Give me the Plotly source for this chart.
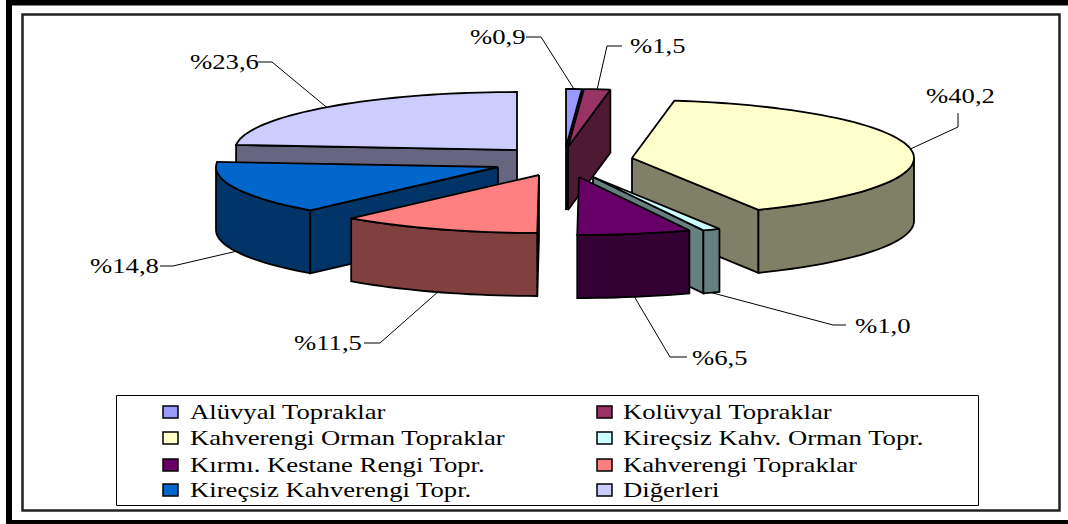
import math
import plotly.graph_objects as go

# ---- data ----
categories = ["Alüvyal Topraklar", "Kolüvyal Topraklar", "Kahverengi Orman Topraklar",
              "Kireçsiz Kahv. Orman Topr.", "Kırmı. Kestane Rengi Topr.", "Kahverengi Topraklar",
              "Kireçsiz Kahverengi Topr.", "Diğerleri"]
values = [0.9, 1.5, 40.2, 1.0, 6.5, 11.5, 14.8, 23.6]

# ---- style ----
top_colors = ["#9999FF", "#993366", "#FFFFCC", "#CCFFFF", "#660066", "#FF8080", "#0066CC", "#CCCCFF"]
side_colors = ["#4C4C80", "#4D1933", "#808066", "#668080", "#330033", "#804040", "#003366", "#666680"]

# pie projection in page pixels
RX, RY, DEPTH = 282.0, 58.0, 63.0
CENTER = (560.0, 160.0)
# explosion of each slice, as an offset from the pie's centre
explode = [(6, -13), (8, -13), (72, -2), (33, 17), (19, 17), (-21, 15), (-62, 7), (-43, -10)]
# paint order, back to front
paint_order = [7, 0, 1, 6, 5, 2, 3, 4]
# leader elbows and label anchors: (elbow, line end, label left, label centre y)
leaders = [
    ((541, 37), (526, 37), 469, 37),
    ((607, 46), (622, 46), 629, 46),
    ((958, 127), (958, 113), 925, 96),
    ((833, 325), (846, 325), 854, 326),
    ((670, 357), (687, 357), 691, 358),
    ((380, 343), (364, 343), 293, 343),
    ((173, 266), (160, 266), 89, 266),
    ((272, 62), (258, 62), 189, 62),
]
LEGEND_ROWS = [412, 438, 465, 490]
LEGEND_SWATCH_X = [163, 597]
LEGEND_TEXT_X = [189, 622]
SERIF = "Liberation Serif"
FONT_SIZE = 21
TEXT_STRETCH = 1.27
OUTLINE = 1.8


def point(apex, deg, drop=0.0):
    t = math.radians(deg)
    return (apex[0] + RX * math.sin(t), apex[1] - RY * math.cos(t) + drop)


def arc(apex, a, b, drop=0.0):
    n = max(2, int(abs(b - a) / 2) + 2)
    return [point(apex, a + (b - a) * i / (n - 1), drop) for i in range(n)]


fig = go.Figure()


def poly(pts, fill):
    xs = [p[0] for p in pts] + [pts[0][0]]
    ys = [p[1] for p in pts] + [pts[0][1]]
    fig.add_trace(go.Scatter(x=xs, y=ys, mode="lines", fill="toself", fillcolor=fill,
                             line=dict(color="black", width=OUTLINE, simplify=False),
                             hoverinfo="skip", showlegend=False))


# angles
total = sum(values)
starts, ends = [], []
acc = 0.0
for v in values:
    starts.append(acc / total * 360)
    acc += v
    ends.append(acc / total * 360)
apexes = [(CENTER[0] + dx, CENTER[1] + dy) for dx, dy in explode]

# slices
for i in paint_order:
    a, b, apex = starts[i], ends[i], apexes[i]
    faces = []
    if math.sin(math.radians(a)) < -1e-6:
        p = point(apex, a)
        faces.append([apex, p, (p[0], p[1] + DEPTH), (apex[0], apex[1] + DEPTH)])
    if math.sin(math.radians(b)) > 1e-6:
        p = point(apex, b)
        faces.append([apex, p, (p[0], p[1] + DEPTH), (apex[0], apex[1] + DEPTH)])
    lo, hi = max(a, 90.0), min(b, 270.0)
    if lo < hi:
        faces.append(arc(apex, lo, hi) + arc(apex, hi, lo, DEPTH))
    faces.sort(key=lambda f: sum(p[1] for p in f) / len(f))
    for f in faces:
        poly(f, side_colors[i])
    poly([apex] + arc(apex, a, b), top_colors[i])

# leaders + value labels
annotations = []
for i, (elbow, end, lx, ly) in enumerate(leaders):
    mid = (starts[i] + ends[i]) / 2
    drop = DEPTH if 90 < mid < 270 else 0.0
    s = point(apexes[i], mid, drop)
    fig.add_trace(go.Scatter(x=[s[0], elbow[0], end[0]], y=[s[1], elbow[1], end[1]], mode="lines",
                             line=dict(color="black", width=1), hoverinfo="skip", showlegend=False))
    annotations.append(dict(x=lx, y=ly, xref="x", yref="y", xanchor="left", yanchor="middle",
                            text="%" + f"{values[i]:.1f}".replace(".", ","), showarrow=False,
                            font=dict(family=SERIF, size=FONT_SIZE, color="black"), borderpad=0))

# frames and legend
shapes = [
    dict(type="rect", x0=9, y0=2.5, x1=1080, y1=523, line=dict(color="black", width=6), layer="below"),
    dict(type="rect", x0=22.5, y0=14.5, x1=1059.5, y1=510.5, line=dict(color="#222222", width=2.5), layer="below"),
    dict(type="rect", x0=116.5, y0=395.5, x1=978.5, y1=505.5, line=dict(color="black", width=1),
         fillcolor="white", layer="below"),
]
for i, name in enumerate(categories):
    col, row = i % 2, i // 2
    y = LEGEND_ROWS[row]
    sx = LEGEND_SWATCH_X[col]
    shapes.append(dict(type="rect", x0=sx, x1=sx + 15, y0=y - 6, y1=y + 6,
                       line=dict(color="black", width=1.5), fillcolor=top_colors[i], layer="above"))
    annotations.append(dict(x=LEGEND_TEXT_X[col], y=y, xref="x", yref="y", xanchor="left", yanchor="middle",
                            text=name, showarrow=False, borderpad=0,
                            font=dict(family=SERIF, size=FONT_SIZE, color="black")))

fig.update_layout(
    width=1068, height=524, margin=dict(l=0, r=0, t=0, b=0, pad=0),
    paper_bgcolor="white", plot_bgcolor="white", showlegend=False,
    xaxis=dict(range=[0, 1068], visible=False, fixedrange=True),
    yaxis=dict(range=[524, 0], visible=False, fixedrange=True),
    shapes=shapes, annotations=annotations,
)

post = """
document.body.style.margin='0';document.body.style.overflow='hidden';
document.querySelectorAll('.annotation-text').forEach(function(t){
  var b=t.getBBox();
  t.setAttribute('text-anchor','start');t.style.textAnchor='start';
  t.setAttribute('x',b.x);
  t.setAttribute('lengthAdjust','spacingAndGlyphs');
  t.setAttribute('textLength',b.width*%s);
});
""" % TEXT_STRETCH
fig.write_html("out.html", config={"displayModeBar": False}, post_script=post)
